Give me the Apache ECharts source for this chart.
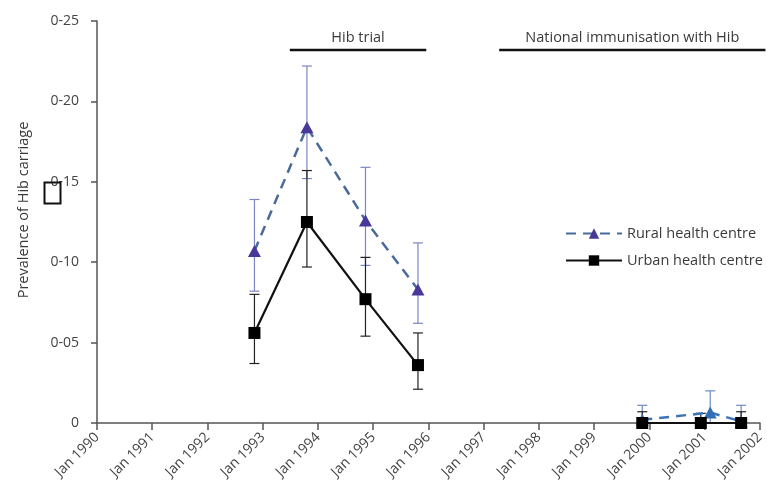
<!DOCTYPE html>
<html>
<head>
<meta charset="utf-8">
<title>Prevalence of Hib carriage</title>
<script src="https://cdn.jsdelivr.net/npm/echarts@6/dist/echarts.min.js"></script>
<style>
  html, body { margin: 0; padding: 0; background: #fff; }
  #chart { width: 767px; height: 492px; }
</style>
</head>
<body>
<div id="chart"></div>
<script>
// Survey dates (decimal years) and carriage prevalence with 95% CI
const trialYears = [1992.85, 1993.80, 1994.86, 1995.81];
const ruralTrial = [0.107, 0.184, 0.126, 0.083];
const ruralTrialLow = [0.082, 0.152, 0.098, 0.062];
const ruralTrialHigh = [0.139, 0.222, 0.159, 0.112];
const urbanTrial = [0.056, 0.125, 0.077, 0.036];
const urbanTrialLow = [0.037, 0.097, 0.054, 0.021];
const urbanTrialHigh = [0.080, 0.157, 0.103, 0.056];

const ruralLateYears = [1999.87, 2001.10, 2001.66];
const ruralLate = [0.002, 0.0065, 0.001];
const ruralLateLow = [0, 0, 0];
const ruralLateHigh = [0.011, 0.020, 0.011];
const urbanLateYears = [1999.87, 2000.93, 2001.66];
const urbanLate = [0, 0, 0];
const urbanLateLow = [0, 0, 0];
const urbanLateHigh = [0.007, 0.006, 0.007];

// Study periods drawn above the data
const periodNames = ['Hib trial', 'National immunisation with Hib'];
const periodStarts = [1993.49, 1997.28];
const periodEnds = [1995.96, 2002.10];
const periodLevel = 0.232;

const xTickYears = [1990, 1991, 1992, 1993, 1994, 1995, 1996, 1997, 1998, 1999, 2000, 2001, 2002];
const yTicks = [0, 0.05, 0.10, 0.15, 0.20, 0.25];

const FONT = '"Open Sans", "Noto Sans", sans-serif';
const RURAL_NAME = 'Rural health centre';
const URBAN_NAME = 'Urban health centre';

function zip(xs, ys) { return xs.map((x, i) => [x, ys[i]]); }
function zip3(xs, lo, hi) { return xs.map((x, i) => [x, lo[i], hi[i]]); }

function errorBars(color) {
  return function (params, api) {
    const x = api.value(0);
    const lo = api.coord([x, api.value(1)]);
    const hi = api.coord([x, api.value(2)]);
    const cap = 5;
    const style = { stroke: color, lineWidth: 1.2 };
    return {
      type: 'group',
      children: [
        { type: 'line', shape: { x1: hi[0], y1: hi[1], x2: lo[0], y2: lo[1] }, style },
        { type: 'line', shape: { x1: hi[0] - cap, y1: hi[1], x2: hi[0] + cap, y2: hi[1] }, style },
        { type: 'line', shape: { x1: lo[0] - cap, y1: lo[1], x2: lo[0] + cap, y2: lo[1] }, style }
      ]
    };
  };
}

// Horizontal period bar with its caption centred above
function periodBar(params, api) {
  const a = api.coord([api.value(0), api.value(2)]);
  const b = api.coord([api.value(1), api.value(2)]);
  return {
    type: 'group',
    children: [
      { type: 'line', shape: { x1: a[0], y1: a[1], x2: b[0], y2: b[1] },
        style: { stroke: '#111', lineWidth: 2.5 } },
      { type: 'text',
        style: {
          x: (a[0] + b[0]) / 2, y: a[1] - 5,
          text: periodNames[params.dataIndex],
          align: 'center', verticalAlign: 'bottom',
          fontFamily: FONT, fontSize: 14.5, fill: '#3a3a3a'
        } }
    ]
  };
}

const chart = echarts.init(document.getElementById('chart'), null, { renderer: 'canvas' });

chart.setOption({
  backgroundColor: '#ffffff',
  animation: false,
  textStyle: { fontFamily: FONT },
  grid: { left: 97, right: 5, top: 21, bottom: 69, containLabel: false },
  legend: {
    orient: 'vertical',
    left: 560,
    top: 221,
    itemWidth: 56,
    itemHeight: 13,
    itemGap: 12,
    data: [RURAL_NAME, URBAN_NAME],
    textStyle: { fontFamily: FONT, fontSize: 14.5, color: '#3a3a3a' }
  },
  xAxis: {
    type: 'value',
    min: xTickYears[0],
    max: xTickYears[xTickYears.length - 1],
    interval: 1,
    axisLine: { show: true, onZero: false, lineStyle: { color: '#555', width: 1.5 } },
    axisTick: { show: true, length: 7, lineStyle: { color: '#555', width: 1.5 } },
    splitLine: { show: false },
    axisLabel: {
      rotate: 45,
      margin: 12,
      fontFamily: FONT,
      fontSize: 14,
      color: '#444',
      formatter: v => 'Jan ' + v
    }
  },
  yAxis: {
    type: 'value',
    min: yTicks[0],
    max: yTicks[yTicks.length - 1],
    interval: 0.05,
    name: 'Prevalence of Hib carriage',
    nameLocation: 'middle',
    nameGap: 66,
    nameTextStyle: { fontFamily: FONT, fontSize: 14.5, color: '#3a3a3a', padding: [0, 0, 0, 24] },
    axisLine: { show: true, lineStyle: { color: '#555', width: 1.5 } },
    axisTick: { show: true, length: 6, lineStyle: { color: '#555', width: 1.5 } },
    splitLine: { show: false },
    axisLabel: {
      margin: 18,
      fontFamily: FONT,
      fontSize: 14,
      color: '#444',
      formatter: v => (v === 0 ? '0' : v.toFixed(2).replace('.', '-'))
    }
  },
  graphic: [
    {
      type: 'rect',
      left: 42, top: 180,
      shape: { width: 16, height: 21 },
      style: { fill: 'none', stroke: '#111', lineWidth: 2 },
      z: 10
    }
  ],
  series: [
    {
      type: 'custom',
      name: 'periods',
      renderItem: periodBar,
      data: periodNames.map((n, i) => [periodStarts[i], periodEnds[i], periodLevel]),
      clip: false,
      silent: true,
      z: 2
    },
    {
      type: 'custom',
      name: 'rural-ci',
      renderItem: errorBars('#7d86c4'),
      data: zip3(trialYears, ruralTrialLow, ruralTrialHigh),
      z: 1, silent: true
    },
    {
      type: 'custom',
      name: 'rural-ci-late',
      renderItem: errorBars('#6a8cc4'),
      data: zip3(ruralLateYears, ruralLateLow, ruralLateHigh),
      z: 1, silent: true
    },
    {
      type: 'custom',
      name: 'urban-ci',
      renderItem: errorBars('#222'),
      data: zip3(trialYears, urbanTrialLow, urbanTrialHigh),
      z: 1, silent: true
    },
    {
      type: 'custom',
      name: 'urban-ci-late',
      renderItem: errorBars('#222'),
      data: zip3(urbanLateYears, urbanLateLow, urbanLateHigh),
      z: 1, silent: true
    },
    {
      type: 'line',
      name: RURAL_NAME,
      data: zip(trialYears, ruralTrial),
      symbol: 'triangle',
      symbolSize: [13, 12],
      showAllSymbol: true,
      itemStyle: { color: '#47389a' },
      lineStyle: { color: '#4a6a9c', width: 2.5, type: [10, 7] },
      z: 3
    },
    {
      type: 'line',
      name: RURAL_NAME,
      data: zip(ruralLateYears, ruralLate),
      symbol: 'triangle',
      symbolSize: [13, 12],
      itemStyle: { color: '#2f6fb6' },
      lineStyle: { color: '#3a74b8', width: 2.5, type: [10, 7] },
      z: 3
    },
    {
      type: 'line',
      name: URBAN_NAME,
      data: zip(trialYears, urbanTrial),
      symbol: 'rect',
      symbolSize: 12,
      itemStyle: { color: '#000' },
      lineStyle: { color: '#111', width: 2.2 },
      z: 4
    },
    {
      type: 'line',
      name: URBAN_NAME,
      data: zip(urbanLateYears, urbanLate),
      symbol: 'rect',
      symbolSize: 12,
      itemStyle: { color: '#000' },
      lineStyle: { color: '#111', width: 2.2 },
      clip: false,
      z: 4
    }
  ]
});
</script>
</body>
</html>
